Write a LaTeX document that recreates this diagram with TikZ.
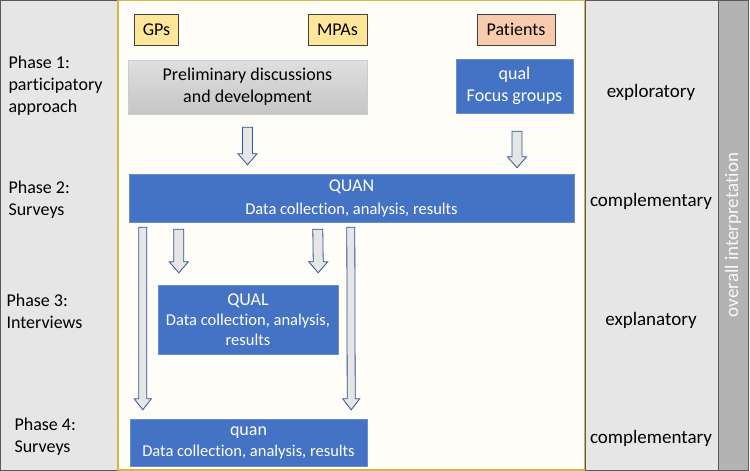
\documentclass[tikz,border=0pt]{standalone}
\usepackage{fontspec}
\setmainfont{Carlito}[Ligatures=NoCommon]
\usetikzlibrary{calc}
\definecolor{panelgray}{HTML}{E6E6E6}
\definecolor{framegray}{HTML}{595959}
\definecolor{stripgray}{HTML}{B3B3B3}
\definecolor{cream}{HTML}{FFFDF7}
\definecolor{gold}{HTML}{D9B44A}
\definecolor{boxblue}{HTML}{4472C4}
\definecolor{arrowblue}{HTML}{2F5597}
\definecolor{gpyellow}{HTML}{FFE699}
\definecolor{peach}{HTML}{F8CBAD}
\tikzset{
  actor/.style={draw=black!75,line width=0.9pt,minimum height=31pt,inner sep=2pt,font=\fontsize{18}{21}\selectfont},
  method/.style={fill=boxblue,draw=boxblue!80!white,text=white,align=center,inner sep=2pt,font=\fontsize{16.5}{21}\selectfont},
  arrowbox/.style={fill=panelgray,draw=arrowblue,line width=0.8pt,line join=miter},
  phase/.style={anchor=west,align=left,font=\fontsize{18}{22}\selectfont},
  design/.style={font=\fontsize{19}{22}\selectfont}
}
\newcommand{\bigline}[1]{{\fontsize{18}{22}\selectfont #1}}
% block arrow: half shaft width, start, end
\newcommand{\blockarrow}[3]{%
  \draw[arrowbox] ($(#2)+(-#1,0)$) -- ($(#3)+(-#1,-11)$) -- ($(#3)+(-#1-4.5,-11)$)
    -- (#3) -- ($(#3)+(#1+4.5,-11)$) -- ($(#3)+(#1,-11)$) -- ($(#2)+(#1,0)$) -- cycle;}
\begin{document}
\begin{tikzpicture}[x=1pt,y=-1pt]
\useasboundingbox (0,0) rectangle (750,471);
% panels
\draw[fill=panelgray,draw=framegray,line width=1pt] (0.5,0.5) rectangle (118,470);
\draw[fill=cream,draw=gold,line width=1.2pt] (118,0.5) rectangle (585,470);
\draw[fill=panelgray,draw=framegray,line width=1pt] (585,0.5) rectangle (718,470);
\draw[fill=stripgray,draw=framegray,line width=1pt] (718,0.5) rectangle (748.5,470);
\node[rotate=90,text=white!95!gray,font=\fontsize{19}{22}\selectfont] (overall) at (733,235) {overall interpretation};

% phases
\node[phase] (ph1) at (5,86) {Phase 1:\\participatory\\approach};
\node[phase] (ph2) at (5,200) {Phase 2:\\Surveys};
\node[phase] (ph3) at (3,311) {Phase 3:\\Interviews};
\node[phase] (ph4) at (11,437) {Phase 4:\\Surveys};

% designs
\node[design] (d1) at (651,92) {exploratory};
\node[design] (d2) at (651,201) {complementary};
\node[design] (d3) at (651,320) {explanatory};
\node[design] (d4) at (651,438) {complementary};

% actors
\node[actor,fill=gpyellow,minimum width=44pt] (gps) at (156.5,29.5) {GPs};
\node[actor,fill=gpyellow,minimum width=59pt] (mpas) at (337.5,29.5) {MPAs};
\node[actor,fill=peach,minimum width=78pt] (pat) at (516,29.5) {Patients};

% methods
\node[draw=gray!40,top color=gray!25,bottom color=gray!45,minimum width=239pt,minimum height=54pt,
  align=center,font=\fontsize{18}{22}\selectfont] (prelim) at (247.5,87) {Preliminary discussions\\and development};
\node[method,minimum width=117pt,minimum height=54pt,font=\fontsize{18}{22}\selectfont] (focus) at (514.5,86) {qual\\Focus groups};
\node[method,minimum width=445pt,minimum height=48pt,font=\fontsize{16.5}{23}\selectfont] (quan1) at (351.5,198)
  {\bigline{QUAN}\\Data collection, analysis, results};
\node[method,minimum width=180pt,minimum height=69pt,font=\fontsize{16.5}{20}\selectfont] (qual) at (248,319.5)
  {\bigline{QUAL}\\Data collection, analysis,\\results};
\node[method,minimum width=237pt,minimum height=47pt] (quan2) at (248.5,442.5)
  {\bigline{quan}\\Data collection, analysis, results};

% arrows
\coordinate (a1s) at ($(prelim.south)+(0,13)$);
\coordinate (a1e) at ($(quan1.north)+(-104,-9)$);
\coordinate (a2s) at ($(focus.south)+(2.5,18)$);
\coordinate (a2e) at ($(quan1.north)+(165.5,-6)$);
\coordinate (l1s) at ($(quan1.south west)+(14,5)$);
\coordinate (l1e) at ($(quan2.north west)+(13,-9)$);
\coordinate (l2s) at ($(quan1.south west)+(222,5)$);
\coordinate (l2e) at ($(quan2.north east)+(-16,-9)$);
\coordinate (s1s) at ($(quan1.south west)+(50,7)$);
\coordinate (s1e) at ($(qual.north west)+(21,-12)$);
\coordinate (s2s) at ($(quan1.south west)+(189,7)$);
\coordinate (s2e) at ($(qual.north east)+(-20,-12)$);
\blockarrow{5}{a1s}{a1e}
\blockarrow{5}{a2s}{a2e}
\blockarrow{4}{l1s}{l1e}
\blockarrow{4}{l2s}{l2e}
\blockarrow{5}{s1s}{s1e}
\blockarrow{5}{s2s}{s2e}
\end{tikzpicture}
\end{document}
